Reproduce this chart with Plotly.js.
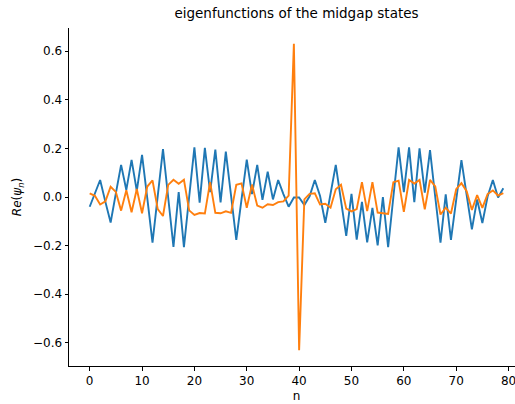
<!DOCTYPE html>
<html>
<head>
<meta charset="utf-8">
<script src="https://cdn.plot.ly/plotly-3.0.1.min.js"></script>
<style>
html, body { margin: 0; padding: 0; overflow: hidden; background: #fff; }
#chart { width: 530px; height: 404px; }
</style>
</head>
<body>
<div id="chart"></div>
<script>
// site index n = 0..79
var n = [];
for (var i = 0; i < 80; i++) { n.push(i); }

// real part of the first midgap eigenfunction (blue)
var psiA = [
 -0.040, 0.015, 0.070, -0.020, -0.105, 0.015, 0.132, 0.029, 0.153, 0.025,
  0.173, -0.005, -0.188, 0.005, 0.197, -0.003, -0.205, 0.020, -0.206, 0.000,
  0.204, -0.023, 0.202, 0.020, 0.195, -0.022, 0.187, 0.006, -0.176, -0.010,
  0.154, 0.012, 0.132, -0.012, 0.104, -0.010, 0.070, 0.012, -0.040, -0.002,
 -0.002, -0.033, 0.003, 0.070, 0.004, -0.106, 0.008, 0.132, -0.015, -0.160,
  0.013, -0.175, -0.020, -0.187, -0.045, -0.199, 0.000, -0.206, 0.000, 0.204,
  0.020, 0.204, -0.021, 0.200, 0.018, 0.193, 0.000, -0.188, 0.011, -0.176,
 -0.012, 0.152, 0.008, -0.133, -0.010, -0.107, 0.002, 0.070, -0.002, 0.036
];

// real part of the second midgap eigenfunction (orange)
var psiB = [
  0.015, 0.005, -0.031, -0.018, 0.042, 0.021, -0.056, 0.028, -0.063, 0.033,
 -0.067, 0.043, 0.068, -0.050, -0.078, 0.050, 0.071, 0.054, 0.071, -0.055,
 -0.074, -0.066, -0.068, 0.061, -0.065, -0.067, -0.059, -0.065, 0.050, 0.056,
 -0.044, 0.051, -0.035, -0.044, -0.030, -0.033, -0.021, -0.018, 0.006, 0.630,
 -0.630, -0.010, 0.013, 0.015, -0.031, -0.028, -0.044, 0.032, 0.050, -0.048,
 -0.059, -0.050, 0.061, -0.058, 0.061, -0.064, -0.067, -0.070, 0.061, 0.067,
 -0.061, 0.070, 0.055, 0.070, -0.051, 0.070, 0.044, -0.072, -0.044, -0.068,
  0.032, 0.057, 0.024, -0.053, 0.008, -0.045, 0.012, 0.027, 0.006, 0.016
];

var xTicks = [0, 10, 20, 30, 40, 50, 60, 70, 80];
var yTicks = [-0.6, -0.4, -0.2, 0.0, 0.2, 0.4, 0.6];

var font = "DejaVu Sans, sans-serif";

var traces = [
  { x: n, y: psiA, type: "scatter", mode: "lines",
    line: { color: "#1f77b4", width: 1.9 }, hoverinfo: "skip" },
  { x: n, y: psiB, type: "scatter", mode: "lines",
    line: { color: "#ff7f0e", width: 1.9 }, hoverinfo: "skip" }
];

var layout = {
  width: 530, height: 404,
  margin: { l: 69, r: 6, t: 28, b: 38, pad: 0 },
  paper_bgcolor: "#ffffff", plot_bgcolor: "#ffffff",
  showlegend: false,
  font: { family: font, size: 12, color: "#000" },
  title: { text: "eigenfunctions of the midgap states",
           font: { family: font, size: 13.5, color: "#000" },
           x: 0.5, xref: "paper", xanchor: "center",
           y: 0.966, yref: "container", yanchor: "middle" },
  xaxis: {
    range: [-3.95, 82.95],
    tickvals: xTicks, ticktext: xTicks.map(String),
    ticks: "outside", ticklen: 3.5, tickwidth: 1, tickcolor: "#000",
    showline: true, linecolor: "#000", linewidth: 1, mirror: false,
    showgrid: false, zeroline: false,
    tickfont: { family: font, size: 12, color: "#000" },
    title: { text: "n", font: { family: font, size: 12, color: "#000" }, standoff: 4 }
  },
  yaxis: {
    range: [-0.695, 0.695],
    tickvals: yTicks, ticktext: yTicks.map(function (v) { return (v < 0 ? "\u2212" : "") + Math.abs(v).toFixed(1); }),
    ticks: "outside", ticklen: 3.5, tickwidth: 1, tickcolor: "#000",
    showline: true, linecolor: "#000", linewidth: 1, mirror: false,
    showgrid: false, zeroline: false,
    tickfont: { family: font, size: 12, color: "#000" },
    title: { text: "<i>Re</i>(<i>\u03c8</i><sub><i>n</i></sub>)",
             font: { family: font, size: 12, color: "#000" }, standoff: 8 }
  }
};

Plotly.newPlot("chart", traces, layout, { staticPlot: true, displayModeBar: false });
</script>
</body>
</html>
